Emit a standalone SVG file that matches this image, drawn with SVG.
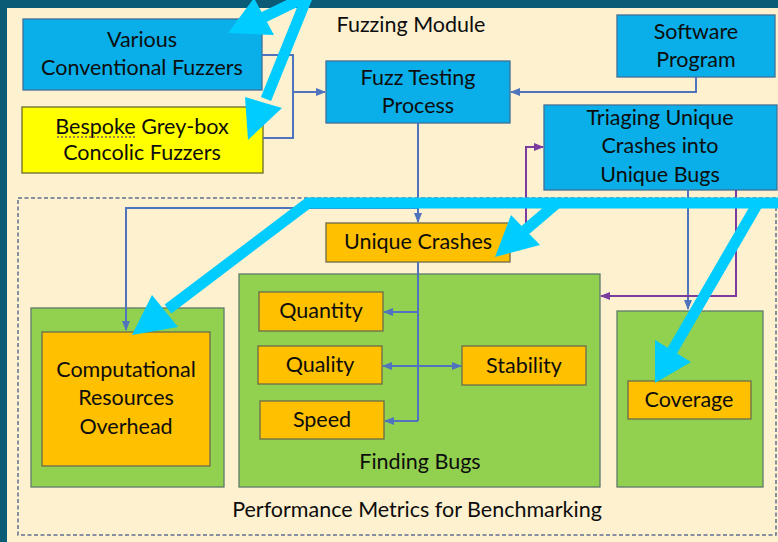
<svg xmlns="http://www.w3.org/2000/svg" width="778" height="542" viewBox="0 0 778 542">
<defs>
<style>
text{font-family:Lato,"Open Sans","Liberation Sans",sans-serif;font-size:21.5px;fill:#0d0d0d;text-anchor:middle}
.blue{fill:#0aaee8;stroke:#3f6f96;stroke-width:1.3}
.yel{fill:#ffff00;stroke:#6b6b2a;stroke-width:1.3}
.org{fill:#ffc000;stroke:#6b6b4a;stroke-width:1.3}
.grn{fill:#92d050;stroke:#5f7a6a;stroke-width:1.3}
.c{fill:none;stroke:#4f74bd;stroke-width:2}
.p{fill:none;stroke:#7a3c9e;stroke-width:2}
.cy{fill:none;stroke:#00ccff;stroke-width:11;stroke-linejoin:miter}
.cyh{fill:#00ccff}
</style>
<marker id="ab" viewBox="0 0 10 10" refX="9" refY="5" markerWidth="5" markerHeight="5" orient="auto" markerUnits="strokeWidth"><path d="M0,1 L10,5 L0,9 z" fill="#4f74bd"/></marker>
<marker id="ap" viewBox="0 0 10 10" refX="9" refY="5" markerWidth="5" markerHeight="5" orient="auto" markerUnits="strokeWidth"><path d="M0,1 L10,5 L0,9 z" fill="#7a3c9e"/></marker>
</defs>
<rect x="0" y="0" width="778" height="542" fill="#0b5a76"/>
<rect x="7" y="8" width="771" height="534" fill="#fdf1d0"/>
<text x="411" y="32">Fuzzing Module</text>
<rect x="18" y="198" width="758" height="337" fill="none" stroke="#5d6f8f" stroke-width="1.5" stroke-dasharray="4,2.5"/>
<text x="417" y="517">Performance Metrics for Benchmarking</text>

<g id="various"><rect class="blue" x="23" y="19" width="239" height="71"/><text x="142" y="47">Various</text><text x="142" y="75">Conventional Fuzzers</text></g>
<g id="bespoke"><rect class="yel" x="22" y="107" width="241" height="66"/><text x="142" y="134">Bespoke Grey-box</text><text x="142" y="160">Concolic Fuzzers</text><line x1="57" y1="137" x2="136" y2="137" stroke="#a08a3a" stroke-width="2" stroke-dasharray="2,2"/></g>
<g id="fuzztesting"><rect class="blue" x="326" y="61" width="184" height="62"/><text x="418" y="85">Fuzz Testing</text><text x="418" y="113">Process</text></g>
<g id="software"><rect class="blue" x="617" y="15" width="158" height="62"/><text x="696" y="39">Software</text><text x="696" y="67">Program</text></g>
<g id="triaging"><rect class="blue" x="544" y="105" width="233" height="85"/><text x="660" y="125">Triaging Unique</text><text x="660" y="153">Crashes into</text><text x="660" y="182">Unique Bugs</text></g>
<g id="uniquecrashes"><rect class="org" x="326" y="223" width="184" height="39"/><text x="418" y="249">Unique Crashes</text></g>
<g id="computational"><rect class="grn" x="31" y="308" width="193" height="179"/><rect class="org" x="42" y="332" width="168" height="134"/><text x="126" y="377">Computational</text><text x="126" y="405">Resources</text><text x="126" y="434">Overhead</text></g>
<g id="findingbugs"><rect class="grn" x="239" y="274" width="361" height="213"/><text x="420" y="469">Finding Bugs</text></g>
<g id="quantity"><rect class="org" x="259" y="292" width="124" height="39"/><text x="321" y="318">Quantity</text></g>
<g id="quality"><rect class="org" x="258" y="346" width="124" height="38"/><text x="320" y="372">Quality</text></g>
<g id="speed"><rect class="org" x="260" y="401" width="124" height="38"/><text x="322" y="427">Speed</text></g>
<g id="stability"><rect class="org" x="462" y="346" width="124" height="39"/><text x="524" y="373">Stability</text></g>
<g id="coveragegroup"><rect class="grn" x="617" y="311" width="146" height="176"/></g>
<g id="coverage"><rect class="org" x="628" y="381" width="123" height="38"/><text x="689" y="407">Coverage</text></g>

<g id="connectors">
<polyline class="c" points="262,55 293,55 293,138 263,138"/>
<line class="c" x1="293" y1="92" x2="325" y2="92" marker-end="url(#ab)"/>
<polyline class="c" points="696,77 696,92 511,92" marker-end="url(#ab)"/>
<line class="c" x1="418" y1="123" x2="418" y2="222" marker-end="url(#ab)"/>
<polyline class="c" points="418,208 126,208 126,330" marker-end="url(#ab)"/>
<line class="c" x1="418" y1="262" x2="418" y2="421"/>
<line class="c" x1="418" y1="312" x2="384" y2="312" marker-end="url(#ab)"/>
<line class="c" x1="418" y1="366" x2="383" y2="366" marker-end="url(#ab)"/>
<line class="c" x1="418" y1="366" x2="461" y2="366" marker-end="url(#ab)"/>
<line class="c" x1="418" y1="421" x2="385" y2="421" marker-end="url(#ab)"/>
<line class="c" x1="688" y1="190" x2="688" y2="309" marker-end="url(#ab)"/>
<polyline class="p" points="510,240 526,240 526,147 543,147" marker-end="url(#ap)"/>
<polyline class="p" points="736,190 736,296 601,296" marker-end="url(#ap)"/>
</g>

<g id="annotations">
<line class="cy" x1="320" y1="-10" x2="262" y2="18"/>
<polygon class="cyh" points="228,33 254,-2 274,35"/>
<line class="cy" x1="310" y1="-10" x2="266" y2="99"/>
<polygon class="cyh" points="248,140 245,97 282,108"/>
<polyline class="cy" points="168,309 308,203 790,203"/>
<polygon class="cyh" points="132,335 152,295 178,327"/>
<line class="cy" x1="557" y1="203" x2="523" y2="232"/>
<polygon class="cyh" points="495,257 511,215 540,245"/>
<line class="cy" x1="758" y1="203" x2="671" y2="353"/>
<polygon class="cyh" points="655,383 655,340 691,362"/>
</g>
</svg>
